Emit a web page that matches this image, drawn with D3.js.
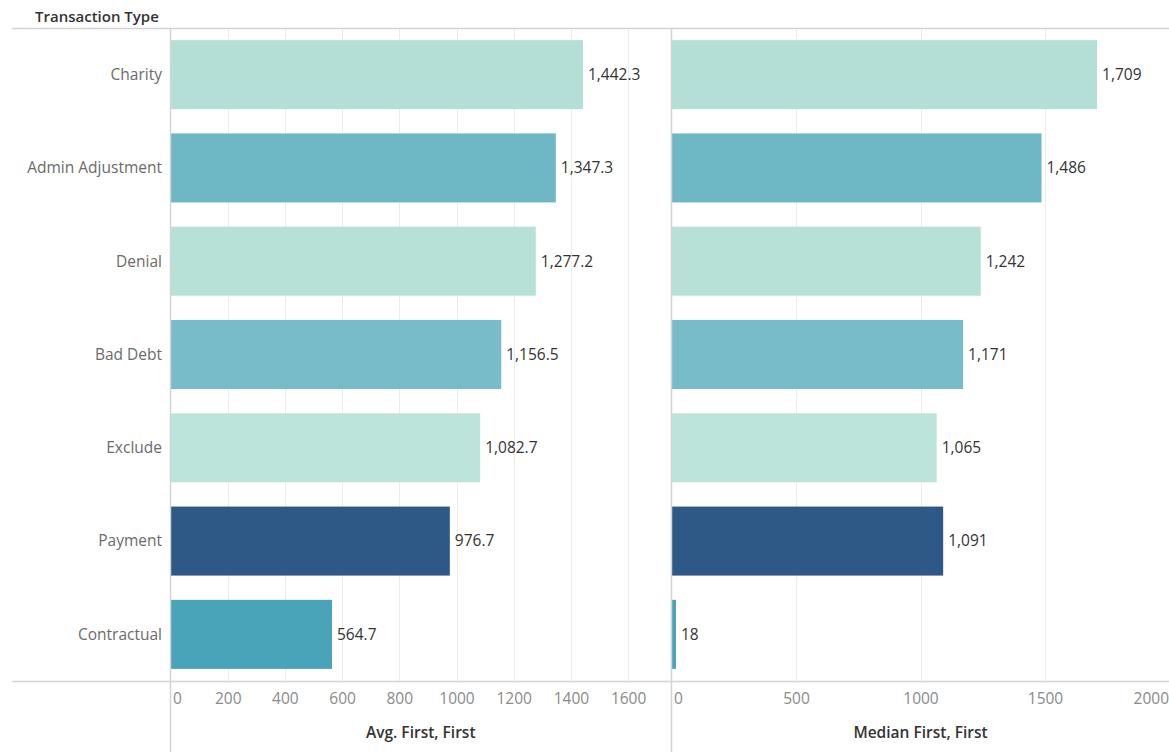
<!DOCTYPE html>
<html>
<head>
<meta charset="utf-8">
<script src="https://cdn.jsdelivr.net/npm/d3@7"></script>
<style>
  html, body { margin: 0; padding: 0; background: #fff; }
  svg { display: block; font-family: "Open Sans", Lato, sans-serif; }
</style>
</head>
<body>
<svg id="chart" width="1169" height="752"></svg>
<script>
// Transaction types, top to bottom
const categories = ["Charity", "Admin Adjustment", "Denial", "Bad Debt", "Exclude", "Payment", "Contractual"];
// Average of First, per transaction type
const avgValues = [1442.3, 1347.3, 1277.2, 1156.5, 1082.7, 976.7, 564.7];
// Median of First, per transaction type
const medianValues = [1709, 1486, 1242, 1171, 1065, 1091, 18];
// Bar colours per transaction type
const barColors = ["#b4dfd6", "#6eb7c5", "#b7e1d7", "#77bcc8", "#bde4da", "#2e5986", "#4aa4b9"];
// Axis ticks
const avgTicks = [0, 200, 400, 600, 800, 1000, 1200, 1400, 1600];
const medianTicks = [0, 500, 1000, 1500, 2000];

const svg = d3.select("#chart");
const W = 1169, H = 752;
const plotTop = 28, plotBottom = 681;
const leftX0 = 170.5, leftX1 = 671;
const rightX0 = 671.5, rightX1 = 1169.5;
const labelFont = "15.5px";
const titleFont = "15px";

const y = d3.scaleBand().domain(categories).range([plotTop, plotBottom]).paddingInner(0.26).paddingOuter(0.13);
const xAvg = d3.scaleLinear().domain([0, 1750]).range([leftX0, leftX1]);
const xMed = d3.scaleLinear().domain([0, 2000]).range([rightX0, rightX1]);
const color = d3.scaleOrdinal().domain(categories).range(barColors);

// Gridlines
function grid(scale, ticks) {
  svg.append("g").selectAll("line").data(ticks.filter(t => t > 0)).join("line")
    .attr("x1", d => Math.round(scale(d)) + 0.5).attr("x2", d => Math.round(scale(d)) + 0.5)
    .attr("y1", plotTop).attr("y2", plotBottom)
    .attr("stroke", "#ececec").attr("stroke-width", 1);
}
grid(xAvg, avgTicks);
grid(xMed, medianTicks);

// Bars with value labels
function bars(scale, values, fmt) {
  const g = svg.append("g");
  g.selectAll("rect").data(categories).join("rect")
    .attr("x", scale(0))
    .attr("y", d => y(d))
    .attr("width", (d, i) => scale(values[i]) - scale(0))
    .attr("height", y.bandwidth())
    .attr("fill", d => color(d));
  g.selectAll("text").data(categories).join("text")
    .attr("x", (d, i) => scale(values[i]) + 5)
    .attr("y", d => y(d) + y.bandwidth() / 2)
    .attr("dy", "0.35em")
    .style("font-size", labelFont)
    .attr("fill", "#333")
    .text((d, i) => fmt(values[i]));
}
bars(xAvg, avgValues, d3.format(",.1f"));
bars(xMed, medianValues, d3.format(",d"));

// Frame lines
svg.append("line").attr("x1", 12).attr("x2", W).attr("y1", plotTop + 0.5).attr("y2", plotTop + 0.5)
  .attr("stroke", "#d4d4d4").attr("stroke-width", 1.5);
svg.append("line").attr("x1", 12).attr("x2", W).attr("y1", plotBottom + 0.5).attr("y2", plotBottom + 0.5)
  .attr("stroke", "#d4d4d4").attr("stroke-width", 1.5);
[170.5, 671.5].forEach(x => {
  svg.append("line").attr("x1", x).attr("x2", x).attr("y1", plotTop).attr("y2", H)
    .attr("stroke", "#d4d4d4").attr("stroke-width", 1.5);
});

// Category labels
svg.append("g").selectAll("text").data(categories).join("text")
  .attr("x", 162)
  .attr("y", d => y(d) + y.bandwidth() / 2)
  .attr("dy", "0.35em")
  .attr("text-anchor", "end")
  .style("font-size", labelFont)
  .attr("fill", "#6b6b6b")
  .text(d => d);

// Header
svg.append("text").attr("x", 35).attr("y", 22)
  .style("font-size", titleFont).attr("font-weight", "600").attr("fill", "#333")
  .text("Transaction Type");

// Axes (tick labels only, drawn from the scales)
function axis(scale, ticks, x0, x1, title) {
  const last = ticks[ticks.length - 1];
  const atEdge = d => scale(d) > W - 20;
  const ax = d3.axisBottom(scale).tickValues(ticks).tickSize(0).tickPadding(0).tickFormat(d3.format("d"));
  const g = svg.append("g").attr("transform", `translate(0,${plotBottom + 12})`).call(ax);
  g.select(".domain").remove();
  g.selectAll("text")
    .style("font-family", "'Open Sans', Lato, sans-serif")
    .style("font-size", labelFont)
    .attr("fill", "#8a8a8a")
    .attr("dy", "0.71em")
    .attr("text-anchor", d => d === 0 ? "start" : (d === last && atEdge(d)) ? "end" : "middle")
    .attr("x", d => d === 0 ? 2 : (d === last && atEdge(d)) ? -1 : 0);
  svg.append("text")
    .attr("x", (x0 + x1) / 2)
    .attr("y", 738)
    .attr("text-anchor", "middle")
    .style("font-size", "15.5px").attr("font-weight", "600").attr("fill", "#333")
    .text(title);
}
axis(xAvg, avgTicks, leftX0, leftX1, "Avg. First, First");
axis(xMed, medianTicks, rightX0, rightX1, "Median First, First");
</script>
</body>
</html>
